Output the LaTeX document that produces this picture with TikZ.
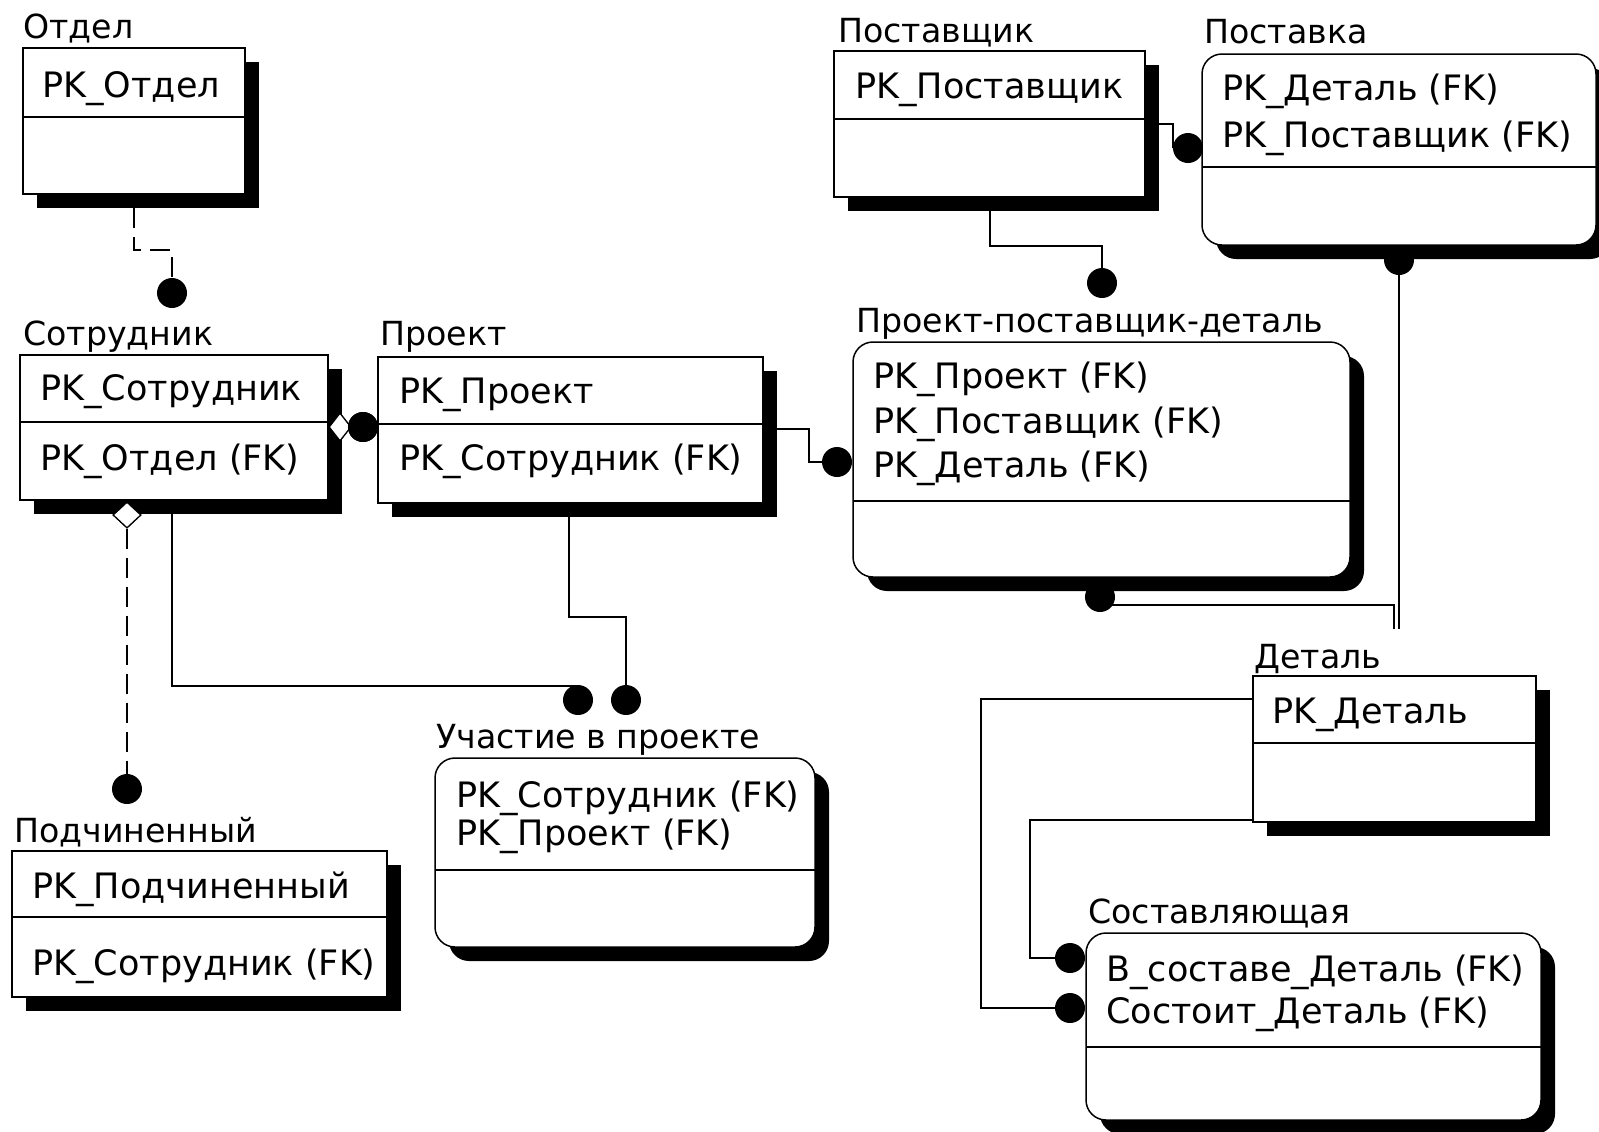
\documentclass[tikz,border=0pt]{standalone}
\usepackage{fontspec}
\setmainfont{DejaVu Sans}
\usetikzlibrary{fit,shapes.geometric,calc}

\newcommand\erfnt{\fontsize{17.5}{21}\selectfont}
\newcommand\ertitlefnt{\fontsize{16.6}{20}\selectfont}

\tikzset{
  ent/.style={draw, line width=0.75pt, fill=white, inner sep=0pt, outer sep=0pt},
  entr/.style={ent, rounded corners=10pt},
  shd/.style={fill=black, inner sep=0pt, outer sep=0pt},
  shdr/.style={shd, rounded corners=10pt},
  sepline/.style={line width=0.7pt},
  ttl/.style={anchor=base west, inner sep=0pt, font=\ertitlefnt},
  fld/.style={anchor=base west, inner sep=0pt, font=\erfnt},
  conn/.style={line width=0.7pt},
  dconn/.style={conn, dash pattern=on 10pt off 4.5pt},
  dot/.style={circle, fill=black, inner sep=0pt, minimum size=15pt},
  diamside/.style={diamond, draw, fill=white, line width=0.6pt, inner sep=0pt,
                   minimum width=11pt, minimum height=14pt},
  diamdown/.style={diamond, draw, fill=white, line width=0.6pt, inner sep=0pt,
                   minimum width=14pt, minimum height=13pt},
}

% entity box: name, box style, shadow style, x1, y1, x2, y2, separator y
\newcommand\erbox[8]{%
  \node[#3, fit={(#4+14,#5+14) (#6+14,#7+14)}] (#1-sh) {};
  \node[#2, fit={(#4,#5) (#6,#7)}] (#1) {};
  \draw[sepline] (#4,#8) -- (#6,#8);
}

\begin{document}
\begin{tikzpicture}[x=0.5pt,y=-0.5pt]
\useasboundingbox (0,0) rectangle (1599,1131);
\clip (0,0) rectangle (1599,1131);
\fill[white] (0,0) rectangle (1599,1131);

% ---------- entities ----------
\erbox{otdel}{ent}{shd}{23}{48}{245}{194}{117}
\erbox{sotr}{ent}{shd}{20}{355}{328}{500}{422}
\erbox{prj}{ent}{shd}{378}{357}{763}{503}{424}
\erbox{podch}{ent}{shd}{12}{851}{387}{997}{917}
\erbox{uch}{entr}{shdr}{435}{758}{815}{947}{870}
\erbox{supp}{ent}{shd}{834}{51}{1145}{197}{119}
\erbox{post}{entr}{shdr}{1202}{54}{1596}{245}{167}
\erbox{ppd}{entr}{shdr}{853}{342}{1350}{577}{501}
\erbox{det}{ent}{shd}{1253}{676}{1536}{822}{743}
\erbox{sost}{entr}{shdr}{1086}{933}{1541}{1120}{1047}

% ---------- titles ----------
\node[ttl] (otdel-t) at (23,38) {Отдел};
\node[ttl] (sotr-t) at (23,345) {Сотрудник};
\node[ttl] (prj-t) at (380,345) {Проект};
\node[ttl] (podch-t) at (14,842) {Подчиненный};
\node[ttl] (uch-t) at (436,748) {Участие в проекте};
\node[ttl] (supp-t) at (838,42) {Поставщик};
\node[ttl] (post-t) at (1204,43) {Поставка};
\node[ttl] (ppd-t) at (856,332) {Проект-поставщик-деталь};
\node[ttl] (det-t) at (1254,668) {Деталь};
\node[ttl] (sost-t) at (1088,923) {Составляющая};

% ---------- attributes ----------
\node[fld] (otdel-a1) at (42,97) {PK\_Отдел};
\node[fld] (sotr-a1) at (40,400) {PK\_Сотрудник};
\node[fld] (sotr-a2) at (40,470) {PK\_Отдел (FK)};
\node[fld] (prj-a1) at (399,403) {PK\_Проект};
\node[fld] (prj-a2) at (399,470) {PK\_Сотрудник (FK)};
\node[fld] (podch-a1) at (32,898) {PK\_Подчиненный};
\node[fld] (podch-a2) at (32,975) {PK\_Сотрудник (FK)};
\node[fld] (uch-a1) at (456,807) {PK\_Сотрудник (FK)};
\node[fld] (uch-a2) at (456,845) {PK\_Проект (FK)};
\node[fld] (supp-a1) at (855,98) {PK\_Поставщик};
\node[fld] (post-a1) at (1222,100) {PK\_Деталь (FK)};
\node[fld] (post-a2) at (1222,147) {PK\_Поставщик (FK)};
\node[fld] (ppd-a1) at (873,388) {PK\_Проект (FK)};
\node[fld] (ppd-a2) at (873,433) {PK\_Поставщик (FK)};
\node[fld] (ppd-a3) at (873,477) {PK\_Деталь (FK)};
\node[fld] (det-a1) at (1272,723) {PK\_Деталь};
\node[fld] (sost-a1) at (1106,981) {В\_составе\_Деталь (FK)};
\node[fld] (sost-a2) at (1106,1023) {Состоит\_Деталь (FK)};

% ---------- relationship ends ----------
\node[diamside] (dm1) at (340,427) {};
\node[diamdown] (dm2) at (127,515) {};
\node[dot] (d1) at (172,293) {};
\node[dot] (d2) at (363,427) {};
\node[dot] (d3) at (127,789) {};
\node[dot] (d4) at (578,700) {};
\node[dot] (d5) at (626,700) {};
\node[dot] (d6) at (837,462) {};
\node[dot] (d7) at (1188,148) {};
\node[dot] (d8) at (1102,283) {};
\node[dot] (d9) at (1399,260) {};
\node[dot] (d10) at (1100,597) {};
\node[dot] (d11) at (1070,1008) {};
\node[dot] (d12) at (1070,958) {};

% bend points and free ends
\coordinate (b1) at (134,250);
\coordinate (b4) at (172,686);
\coordinate (b5) at (569,617);
\coordinate (b6) at (809,429);
\coordinate (b7) at (1173,124);
\coordinate (b8) at (990,246);
\coordinate (e9) at (1399,629);
\coordinate (b10) at (1394,605);
\coordinate (e10) at (1394,629);
\coordinate (b11) at (981,699);
\coordinate (b12) at (1030,820);

% ---------- connectors ----------
\draw[dconn] (otdel-sh.south -| b1) -- (b1) -| (d1);
\draw[conn] (dm1) -- (d2);
\draw[dconn] (dm2) -- (d3);
\draw[conn] (sotr-sh.south -| b4) -- (b4) -- (b4 -| d4);
\draw[conn] (prj-sh.south -| b5) -- (b5) -| (d5);
\draw[conn] (prj.east |- b6) -- (b6) |- (d6);
\draw[conn] (supp.east |- b7) -- (b7) |- (d7);
\draw[conn] (supp-sh.south -| b8) -- (b8) -| (d8);
\draw[conn] (d9) -- (e9);
\draw[conn] (d10 |- b10) -- (b10) -- (e10);
\draw[conn] (det.west |- b11) -- (b11) |- (d11);
\draw[conn] (det.west |- b12) -- (b12) |- (d12);

% keep the end marks above the lines
\node[diamside] at (dm1) {};
\node[dot] at (d2) {};
\node[diamdown] at (dm2) {};
\end{tikzpicture}
\end{document}
